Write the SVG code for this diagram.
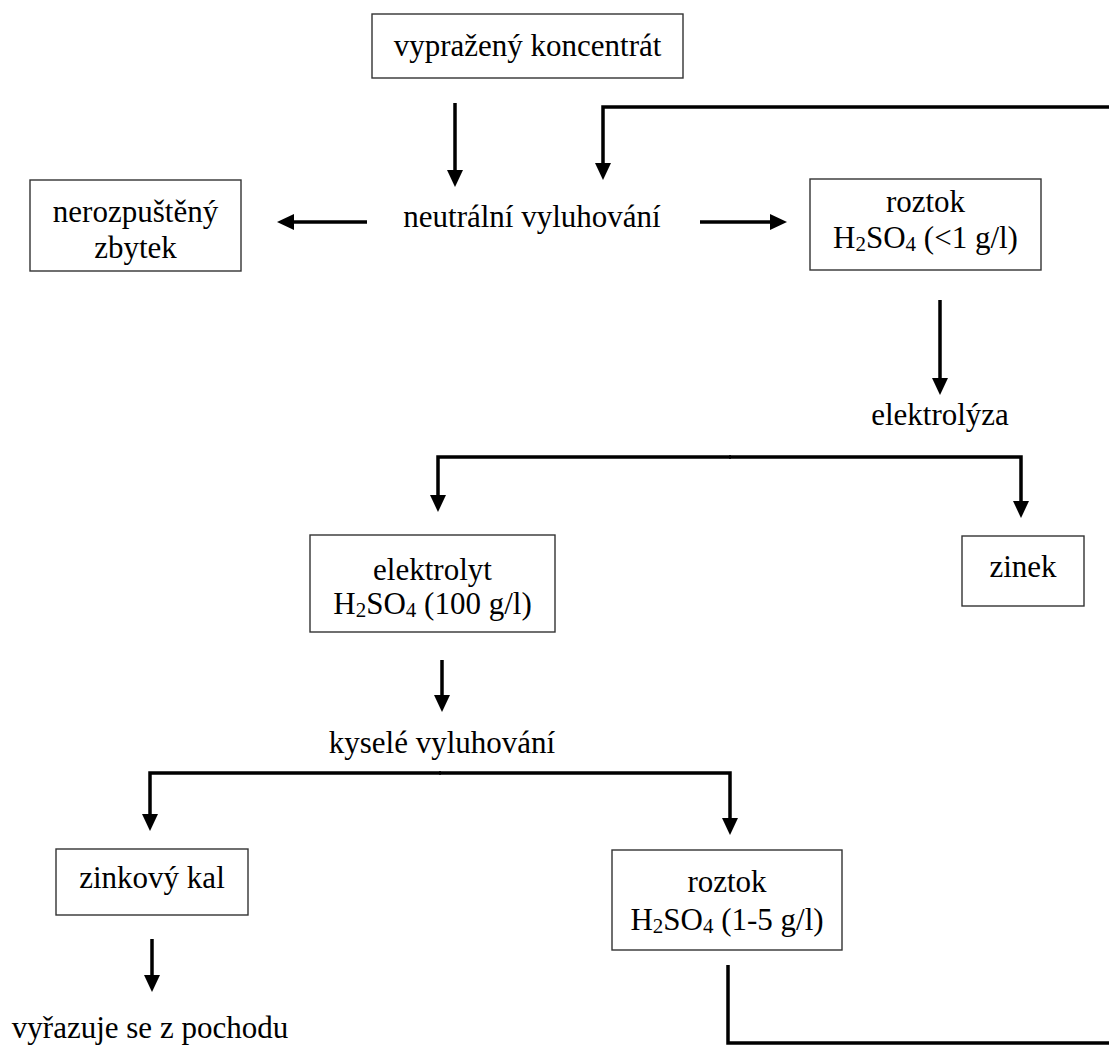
<svg xmlns="http://www.w3.org/2000/svg" width="1109" height="1046" viewBox="0 0 1109 1046">
<style>
  .box rect { fill: #ffffff; stroke: #333333; stroke-width: 1.4; }
  text { font-family: "Liberation Serif", "Times New Roman", serif; font-size: 31px; fill: #000000; text-anchor: middle; }
  .sub { font-size: 21px; }
  .conn path { fill: none; stroke: #000000; stroke-width: 3.5; marker-end: url(#arrow); }
  .conn path.plain { marker-end: none; }
</style>
<defs>
  <marker id="arrow" markerUnits="userSpaceOnUse" markerWidth="18" markerHeight="17" refX="0" refY="8" orient="auto" overflow="visible">
    <path d="M0,0 L17,8 L0,16 z" fill="#000000"/>
  </marker>
</defs>
<rect width="1109" height="1046" fill="#ffffff"/>

<g id="vyprazeny-koncentrat" class="box">
  <rect x="372" y="14" width="311" height="64"/>
  <text x="527.5" y="56">vypražený koncentrát</text>
</g>
<g id="neutralni-vyluhovani">
  <text x="532" y="227">neutrální vyluhování</text>
</g>
<g id="nerozpusteny-zbytek" class="box">
  <rect x="30" y="180" width="211" height="91"/>
  <text x="135.5" y="222">nerozpuštěný</text>
  <text x="135.5" y="258">zbytek</text>
</g>
<g id="roztok-1" class="box">
  <rect x="810" y="179" width="231" height="91"/>
  <text x="925.5" y="212">roztok</text>
  <text x="925.5" y="248">H<tspan class="sub" dy="3">2</tspan><tspan dy="-3">SO</tspan><tspan class="sub" dy="3">4</tspan><tspan dy="-3"> (&lt;1 g/l)</tspan></text>
</g>
<g id="elektrolyza">
  <text x="940" y="425">elektrolýza</text>
</g>
<g id="elektrolyt" class="box">
  <rect x="310" y="535" width="245" height="97"/>
  <text x="432.5" y="580">elektrolyt</text>
  <text x="432.5" y="614">H<tspan class="sub" dy="3">2</tspan><tspan dy="-3">SO</tspan><tspan class="sub" dy="3">4</tspan><tspan dy="-3"> (100 g/l)</tspan></text>
</g>
<g id="zinek" class="box">
  <rect x="962" y="536" width="122" height="70"/>
  <text x="1023" y="577">zinek</text>
</g>
<g id="kysele-vyluhovani">
  <text x="442" y="753">kyselé vyluhování</text>
</g>
<g id="zinkovy-kal" class="box">
  <rect x="56" y="849" width="192" height="66"/>
  <text x="152" y="888">zinkový kal</text>
</g>
<g id="roztok-2" class="box">
  <rect x="612" y="850" width="230" height="100"/>
  <text x="727" y="892">roztok</text>
  <text x="727" y="930">H<tspan class="sub" dy="3">2</tspan><tspan dy="-3">SO</tspan><tspan class="sub" dy="3">4</tspan><tspan dy="-3"> (1-5 g/l)</tspan></text>
</g>
<g id="vyrazuje-se">
  <text x="150" y="1038">vyřazuje se z pochodu</text>
</g>

<g id="connectors" class="conn">
  <path d="M455,103 V170"/>
  <path d="M1109,107 H603 V163"/>
  <path d="M367,222 H294"/>
  <path d="M700,222 H770"/>
  <path d="M940,300 V378"/>
  <path d="M731,457 H438 V495"/>
  <path d="M729,457 H1021 V501"/>
  <path d="M442,660 V695"/>
  <path d="M441,773 H150 V814"/>
  <path d="M439,773 H730 V818"/>
  <path d="M152,939 V975"/>
  <path class="plain" d="M728,965 V1043 H1109"/>
</g>
</svg>
